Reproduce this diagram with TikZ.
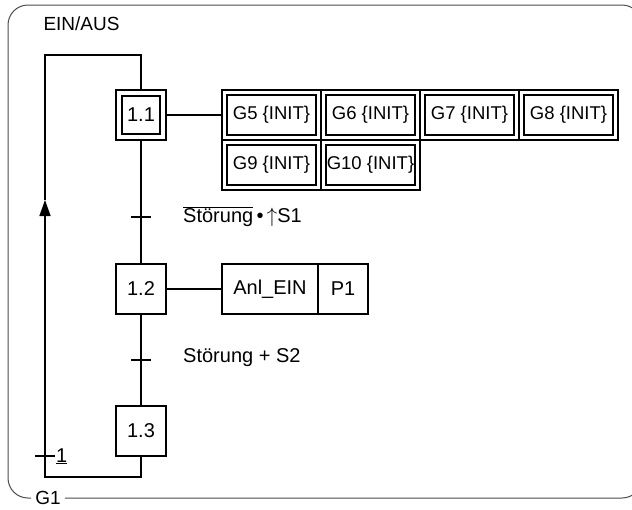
\documentclass[tikz,border=0pt]{standalone}
\usepackage{fontspec}
\setmainfont{Liberation Sans}
\usetikzlibrary{arrows.meta,positioning,calc}
\tikzset{
  line/.style     = {line width=1.5pt, draw=black},
  stepbox/.style  = {draw, line width=1.5pt, minimum width=50pt, minimum height=50pt,
                     inner sep=0pt, outer sep=0pt},
  initstep/.style = {draw, line width=1.5pt, double, double distance=4.5pt,
                     minimum width=44pt, minimum height=44pt, inner sep=0pt, outer sep=3pt},
  actbox/.style   = {draw, line width=1.5pt, minimum height=50pt, inner sep=0pt, outer sep=0pt},
  initact/.style  = {draw, line width=1.5pt, double, double distance=3.5pt,
                     minimum width=94pt, minimum height=45pt, inner sep=0pt, outer sep=2.5pt,
                     font=\fontsize{18.5}{22}\selectfont},
  cond/.style     = {anchor=west, inner sep=0pt},
  frame/.style    = {draw=black!70, line width=1pt, rounded corners=20pt},
}

\begin{document}
\begin{tikzpicture}[x=1pt, y=-1pt, font=\fontsize{20}{24}\selectfont]
  \useasboundingbox (0,0) rectangle (632,509);
  % ---- steps ----
  \node[initstep] (s11) at (141,115) {1.1};
  \node[stepbox, below=124pt of s11] (s12) {1.2};
  \node[stepbox, below=92pt of s12] (s13) {1.3};
  % ---- actions ----
  \node[initact, right=56pt of s11] (g5) {G5 \{INIT\}};
  \node[initact, right=0pt of g5] (g6) {G6 \{INIT\}};
  \node[initact, right=0pt of g6] (g7) {G7 \{INIT\}};
  \node[initact, right=0pt of g7] (g8) {G8 \{INIT\}};
  \node[initact, below=0pt of g5] (g9) {G9 \{INIT\}};
  \node[initact, right=0pt of g9] (g10) {G10 \{INIT\}};
  \node[actbox, minimum width=96pt, right=56pt of s12] (anl) {Anl\_EIN};
  \node[actbox, minimum width=50pt, right=0pt of anl] (p1) {P1};
  % ---- texts ----
  \node[anchor=west, font=\fontsize{19}{22}\selectfont] (hdr) at (40,24) {EIN/AUS};
  \node[inner sep=4pt, font=\fontsize{19}{22}\selectfont] (g1) at (48,498) {G1};
  % ---- transitions ----
  \coordinate (t1) at ($(s11.south)!0.62!(s12.north)$);
  \coordinate (t2) at ($(s12.south)!0.5!(s13.north)$);
  \node[cond] (c1) at ($(t1)+(42,0)$)
    {$\overline{\mbox{Störung}}$\,\textbullet\,$\uparrow$S1};
  \node[cond] (c2) at ($(t2)+(42,-2)$) {Störung + S2};
  % ---- links ----
  \draw[line] (s11) -- (g5);
  \draw[line] (s12) -- (anl);
  \draw[line] (s11) -- (s12);
  \draw[line] (s12) -- (s13);
  \draw[line] ($(t1)+(-10,0)$) -- ($(t1)+(10,0)$);
  \draw[line] ($(t2)+(-10,0)$) -- ($(t2)+(10,0)$);
  % ---- return loop ----
  \coordinate (ret)  at ($(s13.south)+(0,21)$);
  \coordinate (retl) at ($(ret)+(-96,0)$);
  \coordinate (reta) at ($(retl)+(0,-277)$);
  \coordinate (rett) at ($(retl)+(0,-422)$);
  \draw[line, -{Triangle[length=16pt,width=11pt]}] (s13.south) -- (ret) -- (retl) -- (reta);
  \draw[line] (reta) -- (rett) -| (s11.north);
  \draw[line] ($(retl)+(-10,-21)$) -- ($(retl)+(10,-21)$);
  \node[anchor=base west, inner sep=0pt] (jmp) at ($(retl)+(11,-15)$) {\underline{1}};
  % ---- frame ----
  \draw[frame] (g1.east) -- (642,498) -- (642,5) -- (8,5) -- (8,498) -- (g1.west);
\end{tikzpicture}
\end{document}
